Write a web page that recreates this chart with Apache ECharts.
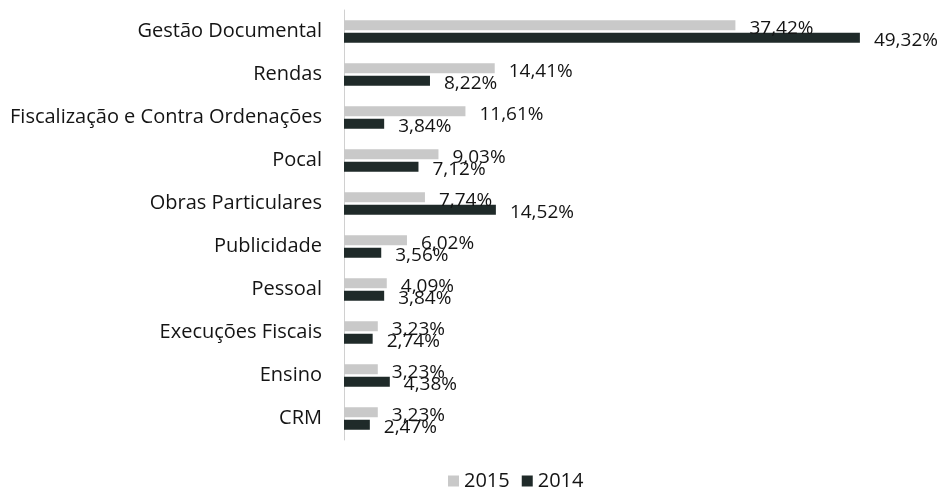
<!DOCTYPE html>
<html>
<head>
<meta charset="utf-8">
<script src="https://cdn.jsdelivr.net/npm/echarts@6/dist/echarts.min.js"></script>
<style>
  html, body { margin: 0; padding: 0; background: #fff; }
  #chart { width: 937px; height: 497px; }
</style>
</head>
<body>
<div id="chart"></div>
<script>
// categorias (de cima para baixo)
const categories = [
  'Gestão Documental',
  'Rendas',
  'Fiscalização e Contra Ordenações',
  'Pocal',
  'Obras Particulares',
  'Publicidade',
  'Pessoal',
  'Execuções Fiscais',
  'Ensino',
  'CRM'
];
const values2015 = [37.42, 14.41, 11.61, 9.03, 7.74, 6.02, 4.09, 3.23, 3.23, 3.23];
const values2014 = [49.32, 8.22, 3.84, 7.12, 14.52, 3.56, 3.84, 2.74, 4.38, 2.47];
const seriesNames = ['2015', '2014'];

const FONT = 'Open Sans';
const fmt = p => p.value.toFixed(2).replace('.', ',') + '%';

const chart = echarts.init(document.getElementById('chart'));

const labelStyle = {
  show: true,
  position: 'right',
  distance: 14,
  offset: [0, 3],
  formatter: fmt,
  color: '#141414',
  fontFamily: FONT,
  fontSize: 19
};

chart.setOption({
  animation: false,
  grid: { left: 344, right: 70, top: 10, height: 430 },
  legend: {
    data: seriesNames,
    bottom: 1,
    left: 443,
    itemWidth: 11,
    itemHeight: 11,
    itemGap: 12,
    icon: 'rect',
    textStyle: { fontFamily: FONT, fontSize: 20, color: '#141414' }
  },
  xAxis: {
    type: 'value',
    min: 0,
    max: 50,
    show: false
  },
  yAxis: {
    type: 'category',
    data: categories,
    inverse: true,
    axisLine: { show: true, lineStyle: { color: '#d0d0d0', width: 1 } },
    axisTick: { show: false },
    axisLabel: { fontFamily: FONT, fontSize: 20, color: '#141414', margin: 22 }
  },
  series: [
    {
      name: '2015',
      type: 'bar',
      data: values2015,
      barWidth: 10,
      barGap: '25%',
      itemStyle: { color: '#c9c9c9' },
      label: labelStyle
    },
    {
      name: '2014',
      type: 'bar',
      data: values2014,
      barWidth: 10,
      itemStyle: { color: '#1f2a29' },
      label: labelStyle
    }
  ]
});
</script>
</body>
</html>
